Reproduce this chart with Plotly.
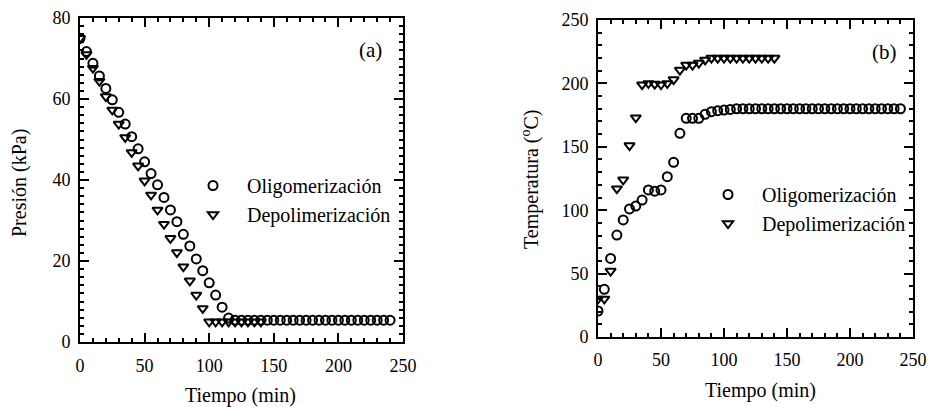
import plotly.graph_objects as go

# ---------------- data ----------------
tiempo_olig = [0, 5, 10, 15, 20, 25, 30, 35, 40, 45, 50, 55, 60, 65, 70, 75, 80, 85, 90, 95,
               100, 105, 110, 115, 120, 125, 130, 135, 140, 145, 150, 155, 160, 165, 170, 175,
               180, 185, 190, 195, 200, 205, 210, 215, 220, 225, 230, 235, 240]
presion_olig = [75, 71.7, 68.8, 65.7, 62.6, 59.8, 56.7, 53.8, 50.7, 47.7, 44.5, 41.6, 38.8, 35.7,
                32.6, 29.7, 26.6, 23.7, 20.5, 17.6, 14.6, 11.6, 8.6, 5.9, 5.4, 5.4, 5.4, 5.4,
                5.4, 5.4, 5.4, 5.4, 5.4, 5.4, 5.4, 5.4, 5.4, 5.4, 5.4, 5.4, 5.4, 5.4, 5.4, 5.4,
                5.4, 5.4, 5.4, 5.4, 5.4]
tiempo_depol = [0, 5, 10, 15, 20, 25, 30, 35, 40, 45, 50, 55, 60, 65, 70, 75, 80, 85, 90, 95,
                100, 105, 110, 115, 120, 125, 130, 135, 140]
presion_depol = [75, 71, 67.6, 64.4, 60.6, 57.3, 53.8, 50.5, 46.8, 43.5, 39.8, 36.3, 32.6, 29.1,
                 25.6, 22.1, 18.6, 15.1, 11.6, 8.3, 5.0, 5.0, 5.0, 5.0, 5.0, 5.0, 5.0, 5.0, 5.0]
temp_olig = [20.5, 37.6, 62, 80.4, 92.3, 101, 103.3, 108, 116, 115, 116, 126.4, 137.8, 160.6,
             172.5, 172.5, 172.5, 175.6, 177.7, 178.5, 179, 179.5, 180, 180, 180, 180, 180, 180,
             180, 180, 180, 180, 180, 180, 180, 180, 180, 180, 180, 180, 180, 180, 180, 180,
             180, 180, 180, 180, 180]
temp_depol = [30, 30, 52, 117, 124, 151, 173, 199, 200, 199.5, 199, 200, 203, 210.5, 214.5,
              214.5, 216, 218.5, 220, 220, 220, 220, 220, 220, 220, 220, 220, 220, 220]

x_ticks = [0, 50, 100, 150, 200, 250]
p_ticks = [0, 20, 40, 60, 80]
t_ticks = [0, 50, 100, 150, 200, 250]

W, H = 931, 407
FONT = "Liberation Serif"


def px(x):
    return x / W


def py(y):
    return 1 - y / H


circ = dict(symbol="circle-open", size=9, color="black", line=dict(width=2, color="black"))
tri = dict(symbol="triangle-down-open", size=9, color="black", line=dict(width=2, color="black"))

fig = go.Figure()
fig.add_trace(go.Scatter(x=tiempo_olig, y=presion_olig, mode="markers", marker=circ,
                         name="Oligomerización", xaxis="x", yaxis="y", legend="legend"))
fig.add_trace(go.Scatter(x=tiempo_depol, y=presion_depol, mode="markers", marker=tri,
                         name="Depolimerización", xaxis="x", yaxis="y", legend="legend"))
fig.add_trace(go.Scatter(x=tiempo_olig, y=temp_olig, mode="markers", marker=circ,
                         name="Oligomerización", xaxis="x2", yaxis="y2", legend="legend2"))
fig.add_trace(go.Scatter(x=tiempo_depol, y=temp_depol, mode="markers", marker=tri,
                         name="Depolimerización", xaxis="x2", yaxis="y2", legend="legend2"))

axis_common = dict(showline=True, linewidth=2, linecolor="black", mirror="ticks",
                   ticks="inside", ticklen=9, tickwidth=2, tickcolor="black",
                   showgrid=False, zeroline=False, automargin=False,
                   tickfont=dict(family=FONT, size=18, color="black"))
minor = dict(ticks="inside", ticklen=4, tickwidth=1.5, tickcolor="black")

fig.update_layout(
    width=W, height=H, margin=dict(l=0, r=0, t=0, b=0, autoexpand=False),
    plot_bgcolor="white", paper_bgcolor="white",
    font=dict(family=FONT, color="black"),
    xaxis=dict(domain=[px(80), px(403)], range=[0, 250], tickvals=x_ticks, anchor="y",
               ticklabelstandoff=6, minor=dict(dtick=10, **minor), **axis_common),
    yaxis=dict(domain=[py(342), py(18)], range=[0, 80], tickvals=p_ticks, anchor="x",
               ticklabelstandoff=4, minor=dict(dtick=2, **minor), **axis_common),
    xaxis2=dict(domain=[px(598), px(913)], range=[0, 250], tickvals=x_ticks, anchor="y2",
                ticklabelstandoff=5, minor=dict(dtick=10, **minor), **axis_common),
    yaxis2=dict(domain=[py(337), py(20)], range=[0, 250], tickvals=t_ticks, anchor="x2",
                ticklabelstandoff=4, minor=dict(dtick=10, **minor), **axis_common),
    legend=dict(x=px(179), y=py(166), xanchor="left", yanchor="top", itemwidth=58,
                font=dict(family=FONT, size=20, color="black"), bgcolor="rgba(0,0,0,0)",
                tracegroupgap=0),
    legend2=dict(x=px(694), y=py(175), xanchor="left", yanchor="top", itemwidth=58,
                 font=dict(family=FONT, size=20, color="black"), bgcolor="rgba(0,0,0,0)",
                 tracegroupgap=0),
    showlegend=True,
)


def label(text, x, y, angle=0, size=20):
    fig.add_annotation(text=text, x=px(x), y=py(y), xref="paper", yref="paper",
                       xanchor="center", yanchor="middle", textangle=angle,
                       showarrow=False, font=dict(family=FONT, size=size, color="black"))


label("Presión (kPa)", 19, 183, -90)
label("Tiempo (min)", 241, 395)
label("Temperatura (<sup>o</sup>C)", 530, 180, -90)
label("Tiempo (min)", 760, 390)
label("(a)", 370, 50, size=21)
label("(b)", 884, 52, size=21)

fig.write_html("out.html")
